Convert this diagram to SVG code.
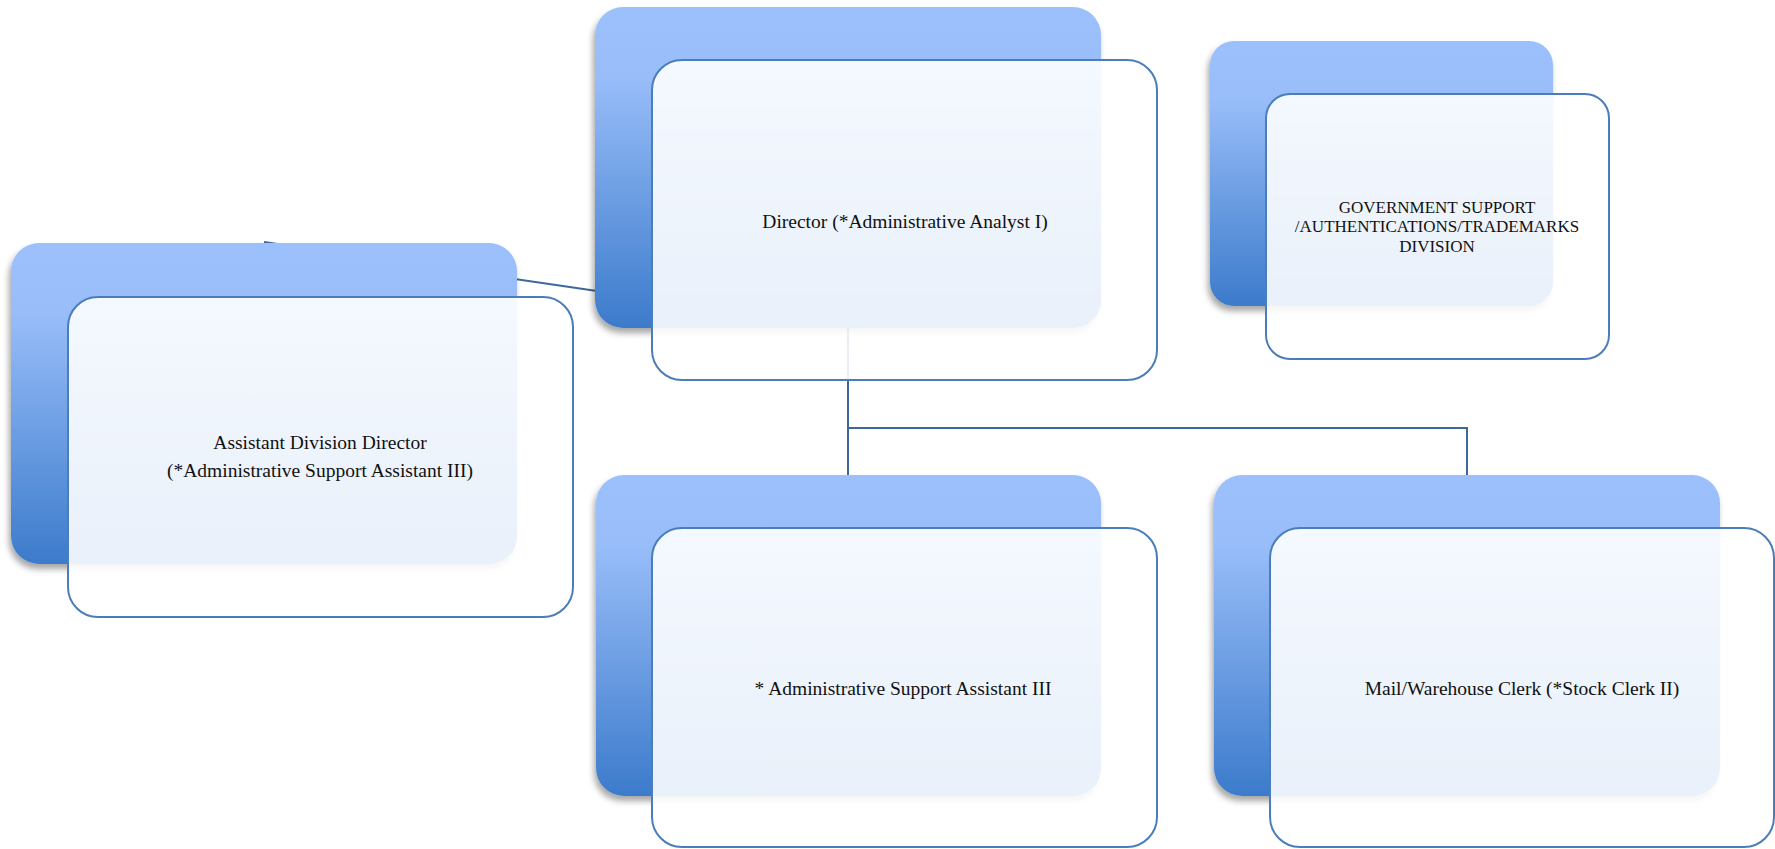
<svg xmlns="http://www.w3.org/2000/svg" width="1775" height="849" viewBox="0 0 1775 849">
  <defs>
    <linearGradient id="backGrad" x1="0" y1="0" x2="0" y2="1">
      <stop offset="0" stop-color="#9CC0FC"/>
      <stop offset="0.22" stop-color="#98BDF9"/>
      <stop offset="1" stop-color="#3C7BCB"/>
    </linearGradient>
    <filter id="shadow" x="-10%" y="-10%" width="120%" height="125%">
      <feDropShadow dx="-2" dy="5" stdDeviation="3" flood-color="#000" flood-opacity="0.35"/>
    </filter>
  </defs>
  <style>
    .back { fill: url(#backGrad); filter: url(#shadow); }
    .front { fill: #ffffff; fill-opacity: 0.89; stroke: #4A7DBA; stroke-width: 2; }
    .conn { fill: none; stroke: #3E679B; stroke-width: 2; }
    .lbl { font-family: "Liberation Serif", "Times New Roman", serif; font-size: 19.5px; fill: #111; text-anchor: middle; }
    .lblc { font-family: "Liberation Serif", "Times New Roman", serif; font-size: 17px; fill: #111; text-anchor: middle; }
  </style>
  <rect width="1775" height="849" fill="#ffffff"/>

  <g id="connectors">
    <line class="conn" x1="264" y1="242" x2="597" y2="291"/>
    <path class="conn" d="M848,328 V475"/>
    <path class="conn" d="M848,428 H1467 V475"/>
  </g>

  <g id="node-assistant">
    <rect class="back" x="11" y="243" width="506" height="321" rx="28"/>
    <rect class="front" x="68" y="297" width="505" height="320" rx="30"/>
    <text class="lbl" x="320" y="449">Assistant Division Director</text>
    <text class="lbl" x="320" y="477">(*Administrative Support Assistant III)</text>
  </g>

  <g id="node-director">
    <rect class="back" x="595" y="7" width="506" height="321" rx="28"/>
    <rect class="front" x="652" y="60" width="505" height="320" rx="30"/>
    <text class="lbl" x="905" y="228">Director (*Administrative Analyst I)</text>
  </g>

  <g id="node-division">
    <rect class="back" x="1210" y="41" width="343" height="265" rx="24"/>
    <rect class="front" x="1266" y="94" width="343" height="265" rx="24"/>
    <text class="lblc" x="1437" y="213">GOVERNMENT SUPPORT</text>
    <text class="lblc" x="1437" y="232">/AUTHENTICATIONS/TRADEMARKS</text>
    <text class="lblc" x="1437" y="252">DIVISION</text>
  </g>

  <g id="node-admin">
    <rect class="back" x="596" y="475" width="505" height="321" rx="28"/>
    <rect class="front" x="652" y="528" width="505" height="319" rx="30"/>
    <text class="lbl" x="903" y="695">* Administrative Support Assistant III</text>
  </g>

  <g id="node-mail">
    <rect class="back" x="1214" y="475" width="506" height="321" rx="28"/>
    <rect class="front" x="1270" y="528" width="504" height="319" rx="30"/>
    <text class="lbl" x="1522" y="695">Mail/Warehouse Clerk (*Stock Clerk II)</text>
  </g>
</svg>
